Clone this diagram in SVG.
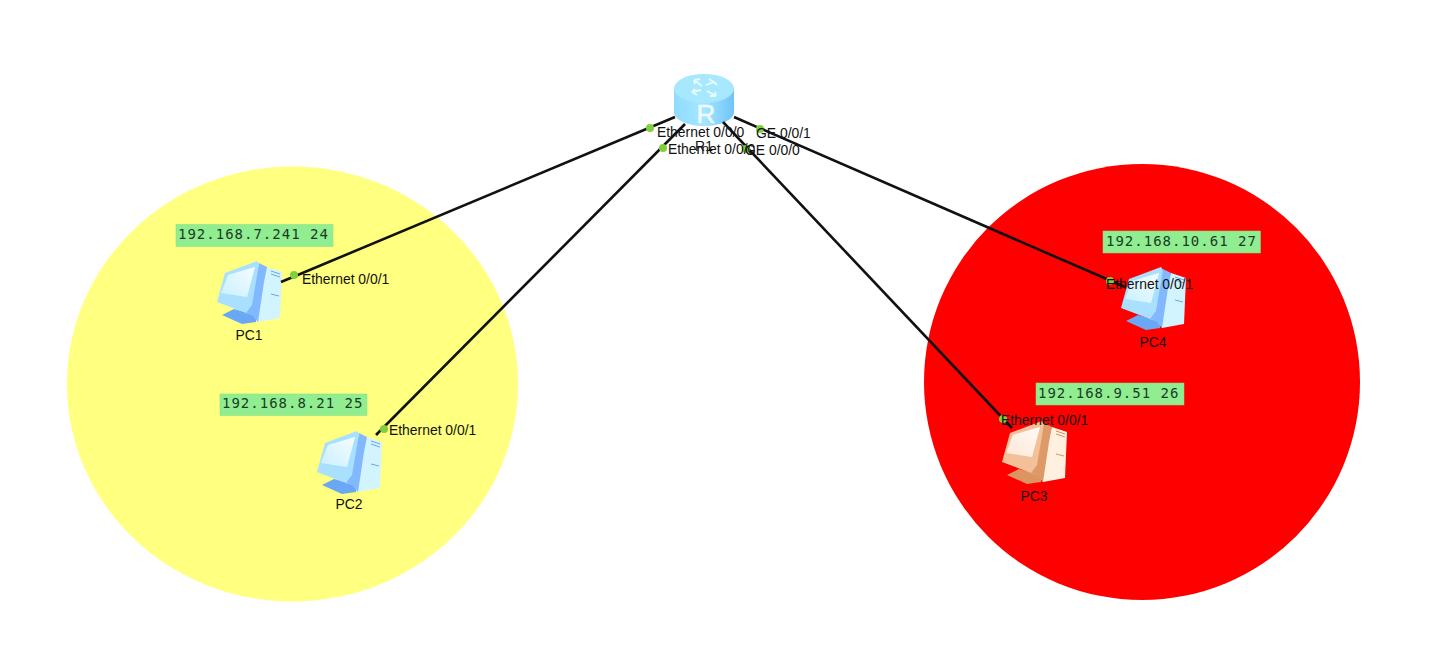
<svg xmlns="http://www.w3.org/2000/svg" width="1434" height="669" viewBox="0 0 1434 669">
<style>
text{font-family:"Liberation Sans",Arial,sans-serif;font-size:13.900px;fill:#111}
.ip{font-family:"DejaVu Sans Mono",monospace;font-size:14px;letter-spacing:1px;fill:#1c3a28}
.ipbox{fill:#90ee90;stroke:#86dc86;stroke-width:.5}
.mid{text-anchor:middle}
.link{stroke:#111;stroke-width:2.6;fill:none}
.dot{fill:#7fd03c}
.blue{--f:#a9e0ff;--s:#c8f0ff;--d:#82b8ff;--t:#d2f4ff;--b:#6aa8f6;--l:#6fa6d8}
.orange{--f:#f3c09a;--s:#fde6d4;--d:#dd9a68;--t:#fff0e0;--b:#dc9460;--l:#d09468}
</style>
<defs>
<linearGradient id="scr" x1="0" y1="1" x2="1" y2="0"><stop offset="0" stop-color="#fff" stop-opacity="0"/><stop offset="1" stop-color="#fff" stop-opacity=".85"/></linearGradient>
<linearGradient id="rb" x1="0" y1="0" x2="1" y2="0"><stop offset="0" stop-color="#8fdcff"/><stop offset=".5" stop-color="#a6e6ff"/><stop offset="1" stop-color="#6fc4f8"/></linearGradient>
<g id="pc">
<path d="M6 55L18 49L40 55V62L26 64Z" style="fill:var(--b)"/>
<path d="M51 7L66 12L64 58L42 62L37 55L30 53Z" style="fill:var(--t)"/>
<path d="M43 3L51 7L48 22L42 62L36 55L30 53Z" style="fill:var(--d)"/>
<path d="M9 13L41 1L43 4L36 45L30 53L1 42Z" style="fill:var(--f)"/>
<path d="M12 15L39 7L31 37L5 33Z" style="fill:var(--s)"/>
<path d="M12 15L39 7L31 37L5 33Z" fill="url(#scr)"/>
<path d="M55 11L64 14M55 14L64 17M55 34L63 36" style="stroke:var(--l);fill:none" stroke-width="1"/>
</g>
</defs>
<rect width="1434" height="669" fill="#fff"/>
<ellipse id="zone-yellow" cx="292.500" cy="384" rx="225.500" ry="217.500" fill="#ffff80"/>
<circle id="zone-red" cx="1142" cy="382" r="218" fill="#f00"/>

<g id="R1">
<path d="M674 89V112C674 120 688 126 704 126C720 126 734 120 734 112V89Z" fill="url(#rb)"/>
<ellipse cx="704" cy="88.500" rx="30" ry="14.500" fill="#a8e8ff"/>
<path d="M694 80L702 86M694 80L700 79M694 80L695 84M714 82L706 85M714 82L709 79M714 82L717 85M692 92L701 90M692 92L697 95M692 92L695 89M716 96L707 91M716 96L710 96M716 96L715 92" stroke="#eafbff" stroke-width="1.800" fill="none"/>
<text class="mid" x="706" y="123" style="font-size:26px;fill:#eafbff;stroke:#eafbff;stroke-width:.6">R</text>
<text class="mid" x="704" y="151">R1</text>
</g>

<g id="PC1" class="blue">
<use href="#pc" x="216" y="260"/>
<text class="mid" x="249" y="340">PC1</text>
<rect class="ipbox" x="176" y="224.500" width="157" height="22"/>
<text class="ip" x="178" y="239">192.168.7.241 24</text>
</g>
<g id="PC2" class="blue">
<use href="#pc" x="316" y="430"/>
<text class="mid" x="349" y="509">PC2</text>
<rect class="ipbox" x="220" y="394" width="147" height="21.500"/>
<text class="ip" x="222" y="408">192.168.8.21 25</text>
</g>
<g id="PC3" class="orange">
<use href="#pc" x="1001" y="420"/>
<text class="mid" x="1034" y="501">PC3</text>
<rect class="ipbox" x="1036" y="383" width="148" height="22"/>
<text class="ip" x="1038" y="398">192.168.9.51 26</text>
</g>
<g id="PC4" class="blue">
<use href="#pc" x="1120" y="266"/>
<text class="mid" x="1153" y="347">PC4</text>
<rect class="ipbox" x="1103" y="231" width="157.500" height="22"/>
<text class="ip" x="1106" y="246">192.168.10.61 27</text>
</g>

<g id="connectors">
<path class="link" d="M675 117L281 282"/>
<path class="link" d="M685 124L376 435"/>
<path class="link" d="M723 122L1012 428"/>
<path class="link" d="M734 117L1125 287"/>
</g>

<g id="ports">
<circle class="dot" cx="650" cy="128" r="4"/>
<circle class="dot" cx="663" cy="148" r="4"/>
<circle class="dot" cx="760" cy="129" r="4"/>
<circle class="dot" cx="746" cy="149" r="4"/>
<circle class="dot" cx="294" cy="275" r="4"/>
<circle class="dot" cx="384" cy="429" r="4"/>
<circle class="dot" cx="1003" cy="419" r="4"/>
<circle class="dot" cx="1110" cy="281" r="4"/>
<text x="657" y="137">Ethernet 0/0/0</text>
<text x="668" y="154">Ethernet 0/0/0</text>
<text x="756" y="138">GE 0/0/1</text>
<text x="745" y="155">GE 0/0/0</text>
<text x="302" y="284">Ethernet 0/0/1</text>
<text x="389" y="435">Ethernet 0/0/1</text>
<text x="1001" y="425">Ethernet 0/0/1</text>
<text x="1106" y="289">Ethernet 0/0/1</text>
</g>
</svg>
